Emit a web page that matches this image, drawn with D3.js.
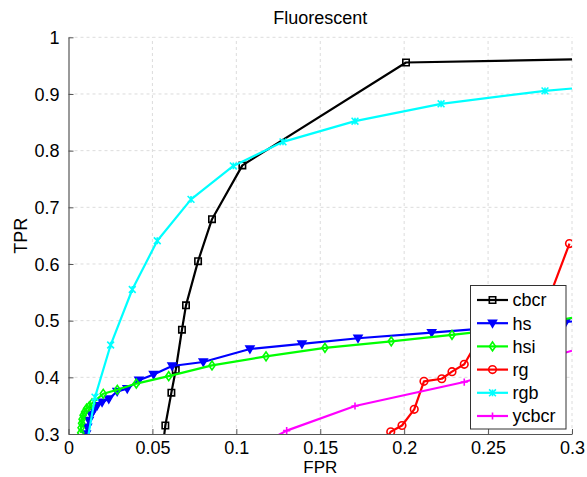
<!DOCTYPE html>
<html><head><meta charset="utf-8">
<script src="https://cdn.jsdelivr.net/npm/d3@7"></script>
<style>body{margin:0;background:#fff}svg{display:block}text{font-family:"Liberation Sans",Arial,sans-serif}</style>
</head><body><svg id="c" width="587" height="477"></svg>
<script>
const seriesNames = ["cbcr","hs","hsi","rg","rgb","ycbcr"];
const seriesColors = ["#000000","#0000ff","#00ff00","#ff0000","#00ffff","#ff00ff"];
const seriesMarkers = ["square","triangleDown","diamond","circle","asterisk","plus"];
const cbcr = [[0.0555,0.26],[0.0577,0.315],[0.0613,0.373],[0.0639,0.413],[0.0676,0.484],[0.0700,0.527],[0.0772,0.605],[0.0855,0.679],[0.1036,0.774],[0.2011,0.9555],[0.30,0.961]];
const hs = [[0.0100,0.285],[0.0105,0.300],[0.0112,0.312],[0.0122,0.324],[0.0135,0.334],[0.0150,0.342],[0.0170,0.350],[0.0200,0.356],[0.0240,0.362],[0.0290,0.375],[0.0350,0.380],[0.0420,0.395],[0.0507,0.405],[0.0617,0.420],[0.0803,0.427],[0.1081,0.450],[0.1391,0.459],[0.1725,0.469],[0.2164,0.479],[0.2964,0.498],[0.30,0.4985]];
const hsi = [[0.0073,0.302],[0.0075,0.311],[0.0078,0.319],[0.0081,0.326],[0.0087,0.333],[0.0096,0.339],[0.0108,0.345],[0.0124,0.349],[0.0140,0.354],[0.0207,0.371],[0.0291,0.378],[0.0404,0.389],[0.0597,0.402],[0.0855,0.421],[0.1177,0.437],[0.1528,0.452],[0.1923,0.4635],[0.2285,0.475],[0.2650,0.487],[0.30,0.505]];
const rg = [[0.188,0.285],[0.192,0.304],[0.1987,0.315],[0.206,0.3435],[0.2118,0.393],[0.2224,0.3975],[0.2285,0.410],[0.2358,0.423],[0.245,0.470],[0.285,0.530],[0.2985,0.636]];
const rgb = [[0.0108,0.280],[0.0158,0.365],[0.0251,0.457],[0.0380,0.555],[0.0529,0.641],[0.0730,0.714],[0.0982,0.773],[0.1278,0.8155],[0.1707,0.852],[0.2220,0.8826],[0.2839,0.9055],[0.30,0.9097]];
const ycbcr = [[0.120,0.290],[0.130,0.306],[0.1707,0.3494],[0.2358,0.3917],[0.30,0.447]];
const seriesData = [cbcr,hs,hsi,rg,rgb,ycbcr];
const xTicks = [0,0.05,0.1,0.15,0.2,0.25,0.3];
const yTicks = [0.3,0.4,0.5,0.6,0.7,0.8,0.9,1];
const xTickLabels = ["0","0.05","0.1","0.15","0.2","0.25","0.3"];
const yTickLabels = ["0.3","0.4","0.5","0.6","0.7","0.8","0.9","1"];

const svg = d3.select("#c");
const L=68.5, R=572, T=37.3, B=434;
const x = d3.scaleLinear().domain([0,0.3]).range([L,R]);
const y = d3.scaleLinear().domain([0.3,1]).range([B,T]);

svg.append("defs").append("clipPath").attr("id","clip").append("rect")
  .attr("x",L).attr("y",T).attr("width",R-L).attr("height",B-T);

// grid
const g = svg.append("g");
xTicks.forEach(t=>{ if(t>0) g.append("line").attr("x1",x(t)).attr("x2",x(t)).attr("y1",B).attr("y2",T)
  .attr("stroke","#dcdcdc").attr("stroke-width",1).attr("stroke-dasharray","3,3"); });
yTicks.forEach(t=>{ if(t>0.3) g.append("line").attr("x1",L).attr("x2",R).attr("y1",y(t)).attr("y2",y(t))
  .attr("stroke","#dcdcdc").attr("stroke-width",1).attr("stroke-dasharray","3,3"); });

// axes
const xAxis = d3.axisBottom(x).tickValues(xTicks).tickFormat((d,i)=>xTickLabels[i]).tickSizeInner(-5).tickSizeOuter(0).tickPadding(7);
const yAxis = d3.axisLeft(y).tickValues(yTicks).tickFormat((d,i)=>yTickLabels[i]).tickSizeInner(-5).tickSizeOuter(0).tickPadding(9);
const gx = svg.append("g").attr("transform",`translate(0,${B})`).call(xAxis);
const gy = svg.append("g").attr("transform",`translate(${L},0)`).call(yAxis);
[gx,gy].forEach(a=>{
  a.select(".domain").attr("stroke","#555").attr("stroke-width",1.2);
  a.selectAll(".tick line").attr("stroke","#555");
  a.selectAll(".tick text").attr("font-size","18px").attr("fill","#000").attr("font-family","Liberation Sans, Arial, sans-serif");
});
gy.selectAll(".tick text").attr("dy","0.35em");

function markerPath(type, s){
  switch(type){
    case "square": return `M${-s},${-s}H${s}V${s}H${-s}Z`;
    case "triangleDown": return `M${-s*1.1},${-s*0.8}H${s*1.1}L0,${s*1.1}Z`;
    case "diamond": return `M0,${-s*1.3}L${s*0.9},0L0,${s*1.3}L${-s*0.9},0Z`;
    case "circle": return `M${s},0A${s},${s} 0 1,1 ${-s},0A${s},${s} 0 1,1 ${s},0Z`;
    case "asterisk": return `M${-s},${-s}L${s},${s}M${-s},${s}L${s},${-s}M0,${-s}V${s}`;
    case "plus": return `M${-s},0H${s}M0,${-s}V${s}`;
  }
}
function drawMarker(sel, type, color, cx, cy){
  const s = {square:3.2,triangleDown:3.6,diamond:3.4,circle:3.8,asterisk:3.4,plus:3.6}[type];
  const filled = type==="triangleDown";
  sel.append("path").attr("d",markerPath(type,s)).attr("transform",`translate(${cx},${cy})`)
    .attr("fill", filled?color:"none").attr("stroke",color).attr("stroke-width",1.6);
}

const plot = svg.append("g").attr("clip-path","url(#clip)");
const line = d3.line().x(d=>x(d[0])).y(d=>y(d[1]));
seriesData.forEach((data,i)=>{
  plot.append("path").datum(data).attr("d",line).attr("fill","none")
    .attr("stroke",seriesColors[i]).attr("stroke-width",2.2).attr("stroke-linejoin","round");
  data.forEach(d=>{
    if(d[0]<0.2995 && d[1]>=0.295) drawMarker(plot, seriesMarkers[i], seriesColors[i], x(d[0]), y(d[1]));
  });
});

// title and labels
svg.append("text").attr("x",(L+R)/2).attr("y",24).attr("text-anchor","middle").attr("font-size","18px").text("Fluorescent");
svg.append("text").attr("x",(L+R)/2).attr("y",473.3).attr("text-anchor","middle").attr("font-size","17px").text("FPR");
svg.append("text").attr("transform",`translate(27,${(T+B)/2}) rotate(-90)`).attr("text-anchor","middle").attr("font-size","18px").text("TPR");

// legend
const lg = svg.append("g");
lg.append("rect").attr("x",470.5).attr("y",285.5).attr("width",95.5).attr("height",143.5)
  .attr("fill","#fff").attr("stroke","#333").attr("stroke-width",1);
seriesNames.forEach((n,i)=>{
  const yy = 300 + i*23.2;
  lg.append("line").attr("x1",477).attr("x2",508).attr("y1",yy).attr("y2",yy).attr("stroke",seriesColors[i]).attr("stroke-width",2.2);
  drawMarker(lg, seriesMarkers[i], seriesColors[i], 492.5, yy);
  lg.append("text").attr("x",512.5).attr("y",yy).attr("dy","0.35em").attr("font-size","18px").text(n);
});
</script></body></html>
